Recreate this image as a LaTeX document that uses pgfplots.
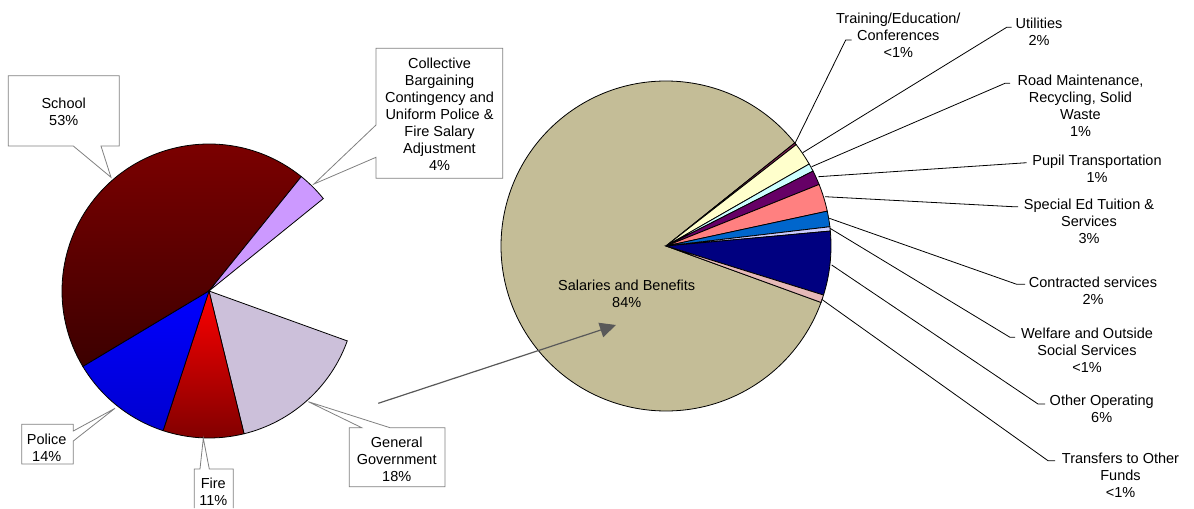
\documentclass[border=0pt]{standalone}
\usepackage{pgfplots}
\pgfplotsset{compat=1.18}
\usepackage{fontspec}
\setmainfont{Liberation Sans}
\usetikzlibrary{arrows.meta}
\definecolor{schA}{HTML}{800000}
\definecolor{schB}{HTML}{3C0000}
\definecolor{fireA}{HTML}{FF0000}
\definecolor{fireB}{HTML}{800000}
\definecolor{polA}{HTML}{0000FF}
\definecolor{polB}{HTML}{0000D0}
\definecolor{coll}{HTML}{CC99FF}
\definecolor{gengov}{HTML}{CCC0DA}
\definecolor{tan}{HTML}{C4BD97}
\definecolor{train}{HTML}{7F1F4F}
\definecolor{util}{HTML}{FFFFCC}
\definecolor{road}{HTML}{CCFFFF}
\definecolor{pupil}{HTML}{660066}
\definecolor{sped}{HTML}{FF8080}
\definecolor{contr}{HTML}{0066CC}
\definecolor{welf}{HTML}{CCCCFF}
\definecolor{other}{HTML}{000080}
\definecolor{transf}{HTML}{E6B9B8}
\definecolor{callout}{HTML}{808080}
\definecolor{arrowc}{HTML}{595959}
\tikzset{lbl/.style={font=\fontsize{14.5}{17}\selectfont, align=center, inner sep=0pt, text=black}}
% pie slice: centre x, centre y (axis units), radius, from angle, to angle, style
\newcommand\pieslice[6]{%
  \path[draw=black, line width=0.8pt, #6] (axis cs:#1,#2) -- ++(#4:#3pt)
    arc[start angle=#4, end angle=#5, radius=#3pt] -- cycle;}
\begin{document}
\begin{tikzpicture}
\begin{axis}[x=1pt, y=1pt, xmin=0, xmax=1194, ymin=0, ymax=508,
  y dir=reverse, axis lines=none, scale only axis, clip=false]
\path (rel axis cs:0,0) rectangle (rel axis cs:1,1);
% ---------- left pie (angles in degrees)
\pieslice{209}{291}{147}{51.1}{210.9}{top color=schA, bottom color=schB}
\pieslice{209}{291}{147}{38.96}{51.1}{fill=coll}
\pieslice{209}{291}{147}{-76.2}{-19.85}{fill=gengov}
\pieslice{209}{291}{147}{-108.2}{-76.2}{top color=fireA, bottom color=fireB}
\pieslice{209}{291}{147}{-149.1}{-108.2}{top color=polA, bottom color=polB}
% ---------- right pie
\pieslice{666}{246}{165}{38.7}{340.0}{fill=tan}
\pieslice{666}{246}{165}{37.9}{38.7}{fill=train}
\pieslice{666}{246}{165}{29.8}{37.9}{fill=util}
\pieslice{666}{246}{165}{27.0}{29.8}{fill=road}
\pieslice{666}{246}{165}{21.9}{27.0}{fill=pupil}
\pieslice{666}{246}{165}{12.2}{21.9}{fill=sped}
\pieslice{666}{246}{165}{6.7}{12.2}{fill=contr}
\pieslice{666}{246}{165}{5.2}{6.7}{fill=welf}
\pieslice{666}{246}{165}{-17.3}{5.2}{fill=other}
\pieslice{666}{246}{165}{-20.0}{-17.3}{fill=transf}
% ---------- callouts (left)
\addplot[draw=callout, fill=white, line width=0.8pt] coordinates {(8.3,75.7) (119.3,75.7) (119.3,146) (101,146) (111,177.3) (73.3,146) (8.3,146)} -- cycle;
\addplot[draw=callout, fill=white, line width=0.8pt] coordinates {(376,48.3) (502.7,48.3) (502.7,178.3) (376,178.3) (376,157.3) (314,184) (376,125)} -- cycle;
\addplot[draw=callout, fill=white, line width=0.8pt] coordinates {(349.3,427.7) (361.7,427.7) (308.3,401.7) (390,427.7) (445,427.7) (445,486.7) (349.3,486.7)} -- cycle;
\addplot[draw=callout, fill=white, line width=0.8pt] coordinates {(21.7,424.3) (73.3,424.3) (73.3,431) (115,408.3) (73.3,441) (73.3,464) (21.7,464)} -- cycle;
\addplot[draw=callout, fill=white, line width=0.8pt] coordinates {(194.3,508) (194.3,469) (200,469) (203.3,438.3) (209.3,469) (233.3,469) (233.3,508)};
\node[lbl] at (axis cs:63.7,112.2) {School\\53\%};
\node[lbl] at (axis cs:439.5,114) {Collective\\Bargaining\\Contingency and\\Uniform Police \&\\Fire Salary\\Adjustment\\4\%};
\node[lbl] at (axis cs:396.7,459.6) {General\\Government\\18\%};
\node[lbl] at (axis cs:46.7,447.5) {Police\\14\%};
\node[lbl] at (axis cs:213.3,491.8) {Fire\\11\%};
% ---------- leader lines (right)
\addplot[black, line width=0.8pt] coordinates {(795,143.3) (845.7,40) (851.7,40)};
\addplot[black, line width=0.8pt] coordinates {(802.7,152.7) (1006.7,27.3) (1011.7,27.3)};
\addplot[black, line width=0.8pt] coordinates {(811.7,166.7) (1005,83.3) (1010,83.3)};
\addplot[black, line width=0.8pt] coordinates {(818.3,176.7) (1026.7,162.7)};
\addplot[black, line width=0.8pt] coordinates {(825,196.7) (1013,206.7) (1018,206.7)};
\addplot[black, line width=0.8pt] coordinates {(829.3,218.3) (1016.7,284.3) (1025,284.3)};
\addplot[black, line width=0.8pt] coordinates {(830,228.3) (1010,337.3) (1015,337.3)};
\addplot[black, line width=0.8pt] coordinates {(831.7,265) (1038,404) (1045,404)};
\addplot[black, line width=0.8pt] coordinates {(821.7,299.3) (1048,460.7) (1055,460.7)};
\node[lbl] at (axis cs:898.3,35.2) {Training/Education/\\Conferences\\<1\%};
\node[lbl] at (axis cs:1039,32) {Utilities\\2\%};
\node[lbl] at (axis cs:1080.5,106) {Road Maintenance,\\Recycling, Solid\\Waste\\1\%};
\node[lbl] at (axis cs:1097,168.5) {Pupil Transportation\\1\%};
\node[lbl] at (axis cs:1089,221) {Special Ed Tuition \&\\Services\\3\%};
\node[lbl] at (axis cs:1093,290.3) {Contracted services\\2\%};
\node[lbl] at (axis cs:1087,350) {Welfare and Outside\\Social Services\\<1\%};
\node[lbl] at (axis cs:1101.7,409) {Other Operating\\6\%};
\node[lbl] at (axis cs:1120.5,475.5) {Transfers to Other\\Funds\\<1\%};
\node[lbl] at (axis cs:626.7,294) {Salaries and Benefits\\84\%};
% ---------- arrow
\addplot[arrowc, line width=1.2pt, -{Triangle[length=16pt,width=15pt]}] coordinates {(378.3,403.3) (616,325)};
\end{axis}
\end{tikzpicture}
\end{document}
